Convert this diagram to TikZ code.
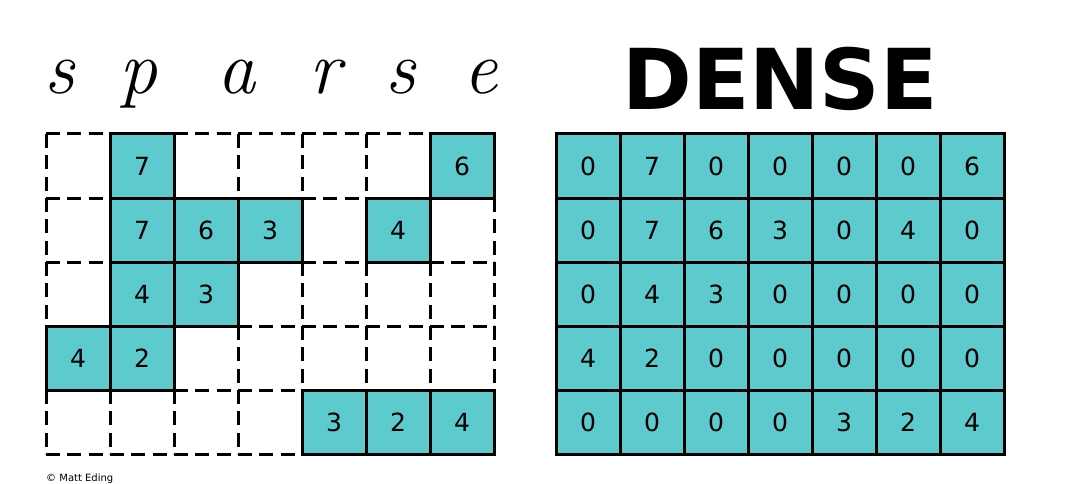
\documentclass[tikz,border=0pt]{standalone}
\usepackage{fontspec}
\newfontfamily\dvs{DejaVu Sans}
\newfontfamily\dvsb{DejaVu Sans Bold}
\definecolor{teal1}{RGB}{93,202,205}
\begin{document}
\begin{tikzpicture}[x=1pt,y=-1pt,
  emptyedge/.style={draw=black,line width=3pt,dash pattern=on 14pt off 7.33pt},
  fullcell/.style={draw=black,fill=teal1,line width=3pt,minimum size=64pt,inner sep=0pt,font=\dvs\fontsize{25}{25}\selectfont},
  sparseletter/.style={anchor=base,inner sep=0pt,font=\itshape\fontsize{76}{76}\selectfont},
]
\clip (0,0) rectangle (1082,484);
\fill[white] (0,0) rectangle (1082,484);
% sparse title
\node[sparseletter] (t1) at (60,94) {s};
\node[sparseletter] (t2) at (138,94) {p};
\node[sparseletter] (t3) at (236,94) {a};
\node[sparseletter] (t4) at (325,94) {r};
\node[sparseletter] (t5) at (401,94) {s};
\node[sparseletter] (t6) at (481,94) {e};
% dense title
\node[anchor=base,inner sep=0pt,font=\dvsb\fontsize{84}{84}\selectfont] (dt) at (780,110) {DENSE};
% sparse empty grid (dashed edges, one per cell side)
\foreach \r in {0,...,5}{
  \foreach \c in {0,...,6}{
    \draw[emptyedge] (46+64*\c,134+64*\r) -- ++(64,0);
  }
}
\foreach \r in {0,...,4}{
  \foreach \c in {0,...,7}{
    \draw[emptyedge] (46+64*\c,134+64*\r) -- ++(0,64);
  }
}
% sparse filled cells
\foreach \r/\c/\v in {0/1/7,0/6/6,1/1/7,1/2/6,1/3/3,1/5/4,2/1/4,2/2/3,3/0/4,3/1/2,4/4/3,4/5/2,4/6/4}{
  \node[fullcell] (s-\r-\c) at (78+64*\c,166+64*\r) {\v};
}
% dense cells
\foreach \row [count=\r from 0] in {{0,7,0,0,0,0,6},{0,7,6,3,0,4,0},{0,4,3,0,0,0,0},{4,2,0,0,0,0,0},{0,0,0,0,3,2,4}}{
  \foreach \v [count=\c from 0] in \row {
    \node[fullcell] (d-\r-\c) at (588+64*\c,166+64*\r) {\v};
  }
}
% copyright
\node[anchor=base west,inner sep=0pt,font=\dvs\fontsize{10}{10}\selectfont] (cr) at (46,481) {© Matt Eding};
\end{tikzpicture}
\end{document}
